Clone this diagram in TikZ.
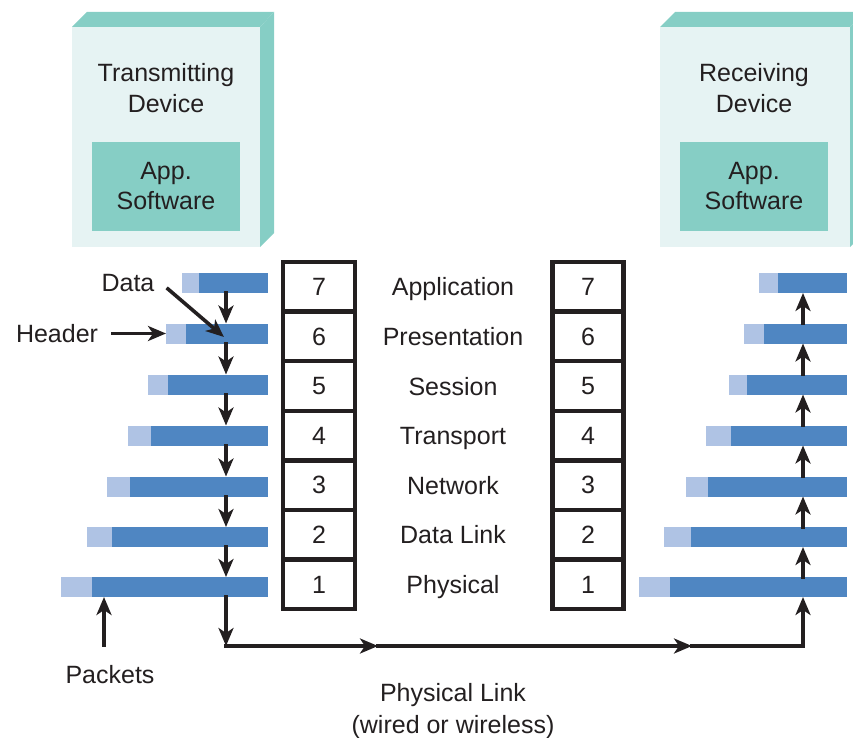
\documentclass[tikz,border=0pt]{standalone}
\usepackage{fontspec}
\setmainfont{Liberation Sans}
\usetikzlibrary{arrows.meta}

\definecolor{ink}{HTML}{231F20}
\definecolor{devteal}{HTML}{86CEC5}
\definecolor{devface}{HTML}{E6F3F3}
\definecolor{pktdark}{HTML}{4F86C2}
\definecolor{pktlight}{HTML}{AFC3E4}

\tikzset{
  lbl/.style={font=\fontsize{25}{31.5}\selectfont, text=ink, align=center, inner sep=0pt},
  layername/.style={lbl, text height=18pt, text depth=0pt},
  cell/.style={draw=ink, line width=4.5pt, minimum height=49.6pt, inner sep=0pt,
               font=\fontsize{25}{30}\selectfont, text=ink},
  hdr/.style={fill=pktlight, anchor=west, minimum height=20pt, inner sep=0pt, outer sep=0pt},
  dat/.style={fill=pktdark, anchor=west, minimum height=20pt, inner sep=0pt, outer sep=0pt},
  appbox/.style={fill=devteal, minimum width=148pt, minimum height=89pt, inner sep=0pt,
                 font=\fontsize{25}{30}\selectfont, text=ink, align=center},
  arr/.style={line width=3.6pt, draw=ink, line cap=rect,
              -{Stealth[length=18pt,width=15pt,inset=5pt]}},
  link/.style={line width=3.6pt, draw=ink, line cap=rect},
}

\begin{document}
\begin{tikzpicture}[x=1pt,y=-1pt]
\useasboundingbox (0,0) rectangle (853,738);

% transmitting device (box with depth)
\fill[devteal] (72,27) -- (87,12) -- (274,12) -- (260,27) -- cycle;
\fill[devteal] (260,27) -- (274,12) -- (274,233) -- (260,247) -- cycle;
\fill[devface] (72,27) rectangle (260,247);
\node[lbl] (ldev) at (166,88) {Transmitting\\Device};
\node[appbox] (lapp) at (166,186.5) {App.\\Software};

% receiving device (runs off the right edge)
\begin{scope}
  \clip (0,0) rectangle (853,738);
  \fill[devteal] (660,27) -- (675,12) -- (865,12) -- (850,27) -- cycle;
  \fill[devteal] (850,27) -- (865,12) -- (865,233) -- (850,247) -- cycle;
  \fill[devface] (660,27) rectangle (850,247);
\end{scope}
\node[lbl] (rdev) at (754,88) {Receiving\\Device};
\node[appbox] (rapp) at (754,186.5) {App.\\Software};

% OSI layer stacks and layer names
\foreach \n/\name [count=\i from 0] in
  {7/Application, 6/Presentation, 5/Session, 4/Transport, 3/Network, 2/Data Link, 1/Physical}{
  \pgfmathsetmacro{\cy}{262+49.6*(\i+0.5)}
  \node[cell, minimum width=72pt] (L\n) at (319,\cy) {\n};
  \node[cell, minimum width=71pt] (R\n) at (588,\cy) {\n};
  \node[layername] (name\n) at (453,\cy) {\name};
}

% packets on the sending side: header + data
\foreach \r/\h/\d/\y in {7/182/199/283, 6/166/186/333.5, 5/148/168/384.5,
                        4/128/151/435.5, 3/107/130/486.5, 2/87/112/537, 1/61/92/587}{
  \node[hdr, minimum width={\d-\h}] (lh\r) at (\h,\y) {};
  \node[dat, minimum width={268-\d}] (ld\r) at (\d,\y) {};
}

% packets on the receiving side
\foreach \r/\h/\d/\y in {7/759/778/283, 6/744/764/333.5, 5/729/747/384.5,
                        4/706/731/435.5, 3/686/708/486.5, 2/664/691/537, 1/639/670/587}{
  \node[hdr, minimum width={\d-\h}] (rh\r) at (\h,\y) {};
  \node[dat, minimum width={847-\d}] (rd\r) at (\d,\y) {};
}

% flow down the sending stack
\coordinate (vl) at (226,0);
\coordinate (vr) at (803,0);
\foreach \r/\n in {7/6, 6/5, 5/4, 4/3, 3/2, 2/1}
  \draw[arr] (ld\r.south -| vl) -- (ld\n.north -| vl);

% physical link between the devices
\coordinate (c1) at (226,646);
\coordinate (m1) at (378,646);
\coordinate (m2) at (692,646);
\coordinate (c2) at (803,646);
\draw[arr] (ld1.south -| vl) -- (c1);
\draw[arr] (c1) -- (m1);
\draw[arr] (m1) -- (m2);
\draw[link] (m2) -- (c2);
\draw[arr] (c2) -- (rd1.south -| vr);

% flow up the receiving stack
\foreach \r/\n in {1/2, 2/3, 3/4, 4/5, 5/6, 6/7}
  \draw[arr] (rd\r.north -| vr) -- (rd\n.south -| vr);

% annotations
\node[lbl] (datalbl) at (128,283) {Data};
\coordinate (dstart) at (168,289);
\coordinate (dtip) at (224,337);
\draw[arr] (dstart) -- (dtip);

\node[lbl] (hdrlbl) at (57,334) {Header};
\draw[arr] ([xshift=15pt]hdrlbl.east |- lh6.west) -- (lh6.west);

\node[lbl] (pktlbl) at (110,675) {Packets};
\coordinate (pkbase) at (104,645);
\draw[arr] (pkbase) -- (ld1.south -| pkbase);

\node[lbl] (linklbl) at (453,711) {Physical Link\\(wired or wireless)};
\end{tikzpicture}
\end{document}
